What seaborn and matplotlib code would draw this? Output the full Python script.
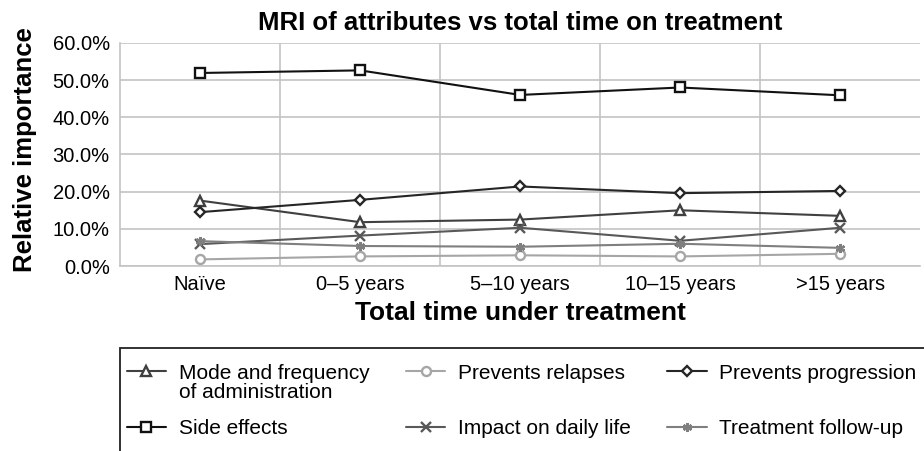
import pandas as pd
import matplotlib.pyplot as plt
import seaborn as sns
from matplotlib.patches import Rectangle
from matplotlib.ticker import PercentFormatter, FixedLocator

# Categories on the x axis
periods = ['Naïve', '0–5 years', '5–10 years', '10–15 years', '>15 years']

# Relative importance (%) of each attribute
mode_freq = [17.6, 11.8, 12.5, 15.0, 13.5]
relapses = [1.8, 2.6, 2.9, 2.6, 3.3]
progression = [14.5, 17.8, 21.4, 19.6, 20.2]
side_effects = [51.9, 52.6, 46.0, 48.0, 45.9]
daily_life = [5.9, 8.2, 10.3, 6.8, 10.3]
follow_up = [6.7, 5.4, 5.2, 6.0, 4.9]

series = [
    ('Mode and frequency', mode_freq, '#404040', '^'),
    ('Prevents relapses', relapses, '#a6a6a6', 'o'),
    ('Prevents progression', progression, '#262626', 'D'),
    ('Side effects', side_effects, '#111111', 's'),
    ('Impact on daily life', daily_life, '#595959', 'x'),
    ('Treatment follow-up', follow_up, '#7f7f7f', (6, 2, 0)),
]

sns.set_style('white')
plt.rcParams['font.family'] = ['Liberation Sans', 'DejaVu Sans']
plt.rcParams.update({'text.color': 'black', 'axes.labelcolor': 'black',
                     'xtick.color': 'black', 'ytick.color': 'black'})

fig = plt.figure(figsize=(9.24, 4.51), dpi=100)
ax = fig.add_axes([0.13, 0.41, 0.866, 0.495])

for name, vals, col, mk in series:
    df = pd.DataFrame({'period': periods, 'value': vals})
    sns.lineplot(data=df, x='period', y='value', ax=ax, color=col, marker=mk,
                 markersize=6.5 if mk != 'D' else 5, markeredgewidth=1.7,
                 markerfacecolor='white', markeredgecolor=col,
                 linewidth=1.5, sort=False, label=name)

ax.set_xlim(-0.5, 4.5)
ax.set_ylim(0, 60)
ax.yaxis.set_major_locator(FixedLocator([0, 10, 20, 30, 40, 50, 60]))
ax.yaxis.set_major_formatter(PercentFormatter(xmax=100, decimals=1))
ax.xaxis.set_minor_locator(FixedLocator([0.5, 1.5, 2.5, 3.5]))
ax.grid(True, axis='y', which='major', color='#c4c4c4', linewidth=1.2)
ax.grid(True, axis='x', which='minor', color='#c4c4c4', linewidth=1.2)
ax.grid(False, axis='x', which='major')
ax.tick_params(axis='both', which='both', length=0, labelsize=14.5)
ax.tick_params(axis='x', pad=6.5)
ax.tick_params(axis='y', pad=7.5)
for s in ['top', 'right']:
    ax.spines[s].set_visible(False)
for s in ['left', 'bottom']:
    ax.spines[s].set_color('#c4c4c4')
    ax.spines[s].set_linewidth(1.2)

ax.set_title('MRI of attributes vs total time on treatment', fontsize=18.5,
             fontweight='bold', pad=9)
ax.set_xlabel('Total time under treatment', fontsize=19, fontweight='bold', labelpad=5)
ax.set_ylabel('Relative importance', fontsize=18.5, fontweight='bold')
ax.yaxis.set_label_coords(-0.104, 0.52)

# legend, filled column by column so rows read like the reference
handles, labels = ax.get_legend_handles_labels()
ax.get_legend().remove()
order = [0, 3, 1, 4, 2, 5]
leg = fig.legend([handles[i] for i in order], [labels[i] for i in order],
                 loc='upper left', ncol=3,
                 bbox_to_anchor=(110 / 924, 1 - 347 / 451, 823 / 924, 0),
                 mode='expand', frameon=False, fontsize=15,
                 handlelength=1.9, handletextpad=0.6, borderpad=0.3,
                 labelspacing=1.74, columnspacing=1.0)

# legend border, running past the bottom and right of the figure
fig.add_artist(Rectangle((0.13, -0.2), 1.0, 1 - 348 / 451 + 0.2,
                         transform=fig.transFigure, fill=False,
                         edgecolor='#222222', linewidth=1.3))

# second line of the first legend label
fig.canvas.draw()
bb = leg.get_texts()[0].get_window_extent()
x0, y0 = fig.transFigure.inverted().transform((bb.x0, bb.y0))
fig.text(x0, y0, 'of administration', fontsize=15, ha='left', va='top')

fig.savefig('out.png', dpi=100)
